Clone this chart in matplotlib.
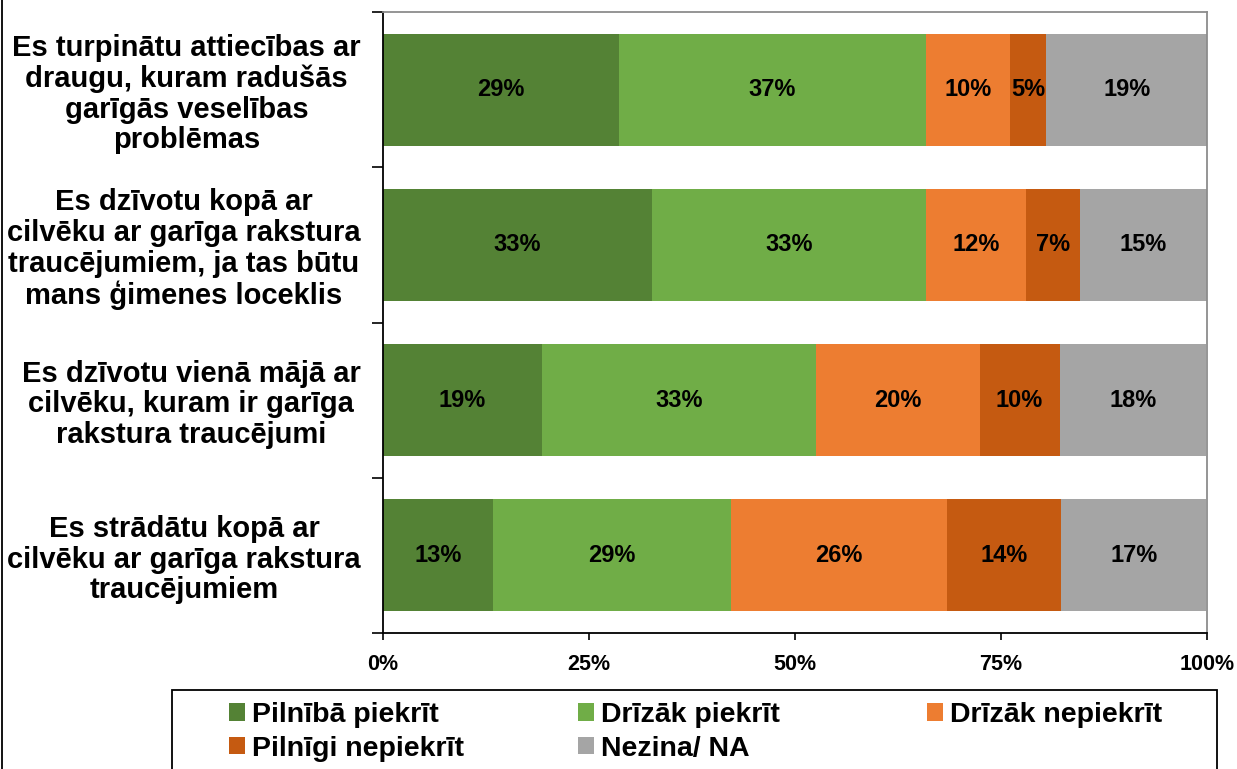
import matplotlib.pyplot as plt
from matplotlib.lines import Line2D
from matplotlib.patches import Rectangle
import numpy as np

plt.rcParams['font.family'] = ['Liberation Sans', 'DejaVu Sans']
plt.rcParams['font.weight'] = 'bold'

# dati
jautajumi = [
    'Es turpinātu attiecības ar\ndraugu, kuram radušās\ngarīgās veselības\nproblēmas',
    'Es dzīvotu kopā ar\ncilvēku ar garīga rakstura\ntraucējumiem, ja tas būtu\nmans ģimenes loceklis',
    'Es dzīvotu vienā mājā ar\ncilvēku, kuram ir garīga\nrakstura traucējumi',
    'Es strādātu kopā ar\ncilvēku ar garīga rakstura\ntraucējumiem',
]
atbildes = ['Pilnībā piekrīt', 'Drīzāk piekrīt', 'Drīzāk nepiekrīt',
            'Pilnīgi nepiekrīt', 'Nezina/ NA']
pilniba_piekrit = [28.6, 32.6, 19.3, 13.3]
drizak_piekrit = [37.3, 33.3, 33.2, 28.9]
drizak_nepiekrit = [10.2, 12.1, 19.9, 26.3]
pilnigi_nepiekrit = [4.4, 6.6, 9.7, 13.8]
nezina = [19.5, 15.4, 17.8, 17.6]
etiketes = [
    ['29%', '37%', '10%', '5%', '19%'],
    ['33%', '33%', '12%', '7%', '15%'],
    ['19%', '33%', '20%', '10%', '18%'],
    ['13%', '29%', '26%', '14%', '17%'],
]
krasas = ['#548235', '#70AD47', '#ED7D31', '#C55A11', '#A5A5A5']

serijas = [pilniba_piekrit, drizak_piekrit, drizak_nepiekrit, pilnigi_nepiekrit, nezina]

fig = plt.figure(figsize=(12.37, 7.69), dpi=100)
ax = fig.add_axes([383 / 1237, 1 - 633 / 769, 824 / 1237, 621 / 769])

y = np.arange(len(jautajumi))
kreisi = np.zeros(len(jautajumi))
rokturi = []
for i, (vert, krasa, nos) in enumerate(zip(serijas, krasas, atbildes)):
    vert = np.array(vert) / 100
    bars = ax.barh(y, vert, left=kreisi, height=0.72, color=krasa, label=nos)
    ax.bar_label(bars, labels=[e[i] for e in etiketes], label_type='center',
                 fontsize=17, fontweight='bold', color='black')
    rokturi.append(bars)
    kreisi += vert

ax.set_xlim(0, 1)
ax.set_ylim(3.5, -0.5)
ax.set_xticks([0, 0.25, 0.5, 0.75, 1.0])
ax.set_xticklabels(['0%', '25%', '50%', '75%', '100%'], fontsize=15.5, fontweight='bold')
ax.tick_params(axis='x', direction='out', length=5, width=1.2, pad=10)

ax.set_yticks([-0.5, 0.5, 1.5, 2.5, 3.5])
ax.set_yticklabels([])
ax.tick_params(axis='y', which='major', direction='out', length=8, width=1.2)
ax.set_yticks(y, minor=True)
ax.set_yticklabels(jautajumi, minor=True, fontsize=21, fontweight='bold',
                   multialignment='center', linespacing=1.12)
ax.tick_params(axis='y', which='minor', length=0, pad=16)

for s in ['left', 'bottom']:
    ax.spines[s].set_color('black')
    ax.spines[s].set_linewidth(1.3)
for s in ['top', 'right']:
    ax.spines[s].set_color('#8C8C8C')
    ax.spines[s].set_linewidth(1.3)

# leģenda: trīs kolonnas, katra kā atsevišķa leģenda
kolonnas = [([0, 3], 229), ([1, 4], 578), ([2], 927)]
for idx, xpx in kolonnas:
    leg = fig.legend([rokturi[k] for k in idx], [atbildes[k] for k in idx],
                     loc='upper left', bbox_to_anchor=(xpx / 1237, 1 - 702 / 769),
                     fontsize=20.5, frameon=False, handlelength=0.55, handleheight=0.55,
                     handletextpad=0.25, borderaxespad=0, borderpad=0, labelspacing=0.28)
    for t in leg.get_texts():
        t.set_fontweight('bold')

fig.add_artist(Rectangle((172 / 1237, -0.05), (1217 - 172) / 1237, (769 - 690) / 769 + 0.05,
                         transform=fig.transFigure, fill=False, edgecolor='black', lw=1.3))
fig.add_artist(Line2D([0.002, 0.002], [0, 1], color='black', lw=1.3))

fig.savefig('out.png', dpi=100)
